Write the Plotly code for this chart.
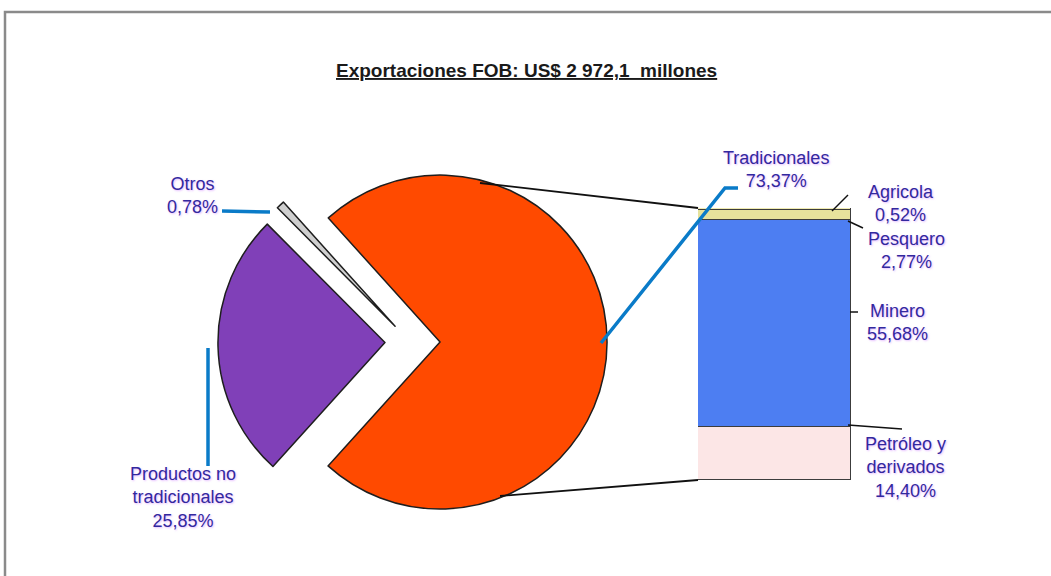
import plotly.graph_objects as go

W, H = 1051, 576

# ---------------- data ----------------
pie_labels = ["Tradicionales", "Otros", "Productos no tradicionales"]
pie_values = [73.37, 0.78, 25.85]
pie_colors = ["#FF4A00", "#CFCFCF", "#8040B8"]
pie_pull = [0.18, 0.13, 0.15]

bar_labels = ["Petróleo y derivados", "Minero", "Pesquero", "Agricola"]
bar_values = [14.40, 55.68, 2.77, 0.52]
bar_colors = ["#FCE6E6", "#4D7EF2", "#E6E29C", "#EFEAB0"]

title_text = "Exportaciones FOB: US$ 2 972,1  millones"


def px(x):
    return x / W


def py(y):
    return 1 - y / H


fig = go.Figure()

# ---------------- pie ----------------
cx, cy, r = 410, 342, 167
half = r * (1 + max(pie_pull))
fig.add_trace(go.Pie(
    labels=pie_labels, values=pie_values, sort=False,
    direction="counterclockwise", rotation=-42,
    pull=pie_pull, textinfo="none", hoverinfo="label+percent",
    marker=dict(colors=pie_colors, line=dict(color="#1e1e1e", width=1.5)),
    domain=dict(x=[px(cx - half), px(cx + half)], y=[py(cy + half), py(cy - half)]),
    showlegend=False,
))

# ---------------- stacked bar ----------------
for lab, val, col in zip(bar_labels, bar_values, bar_colors):
    fig.add_trace(go.Bar(
        x=[0], y=[val], name=lab, width=1,
        marker=dict(color=col, line=dict(color="#3c3c3c", width=1.5)),
        xaxis="x", yaxis="y", showlegend=False, hoverinfo="name+y",
    ))

total = sum(bar_values)
fig.update_layout(
    width=W, height=H, autosize=False,
    margin=dict(l=0, r=0, t=0, b=0),
    paper_bgcolor="white", plot_bgcolor="rgba(0,0,0,0)",
    barmode="stack", bargap=0,
    xaxis=dict(domain=[px(698), px(851)], range=[-0.5, 0.5], visible=False, fixedrange=True),
    yaxis=dict(domain=[py(480), py(208)], range=[0, total], visible=False, fixedrange=True),
)

shapes = []
# outer frame
shapes.append(dict(type="rect", xref="paper", yref="paper",
                   x0=px(5), y0=-0.1, x1=1.1, y1=py(12),
                   line=dict(color="#8a8a8a", width=2.5), fillcolor="rgba(0,0,0,0)", layer="below"))

# connector lines pie -> bar
shapes.append(dict(type="line", xref="paper", yref="paper", x0=px(480), y0=py(183),
                   x1=px(698), y1=py(208), line=dict(color="#111", width=1.8)))
shapes.append(dict(type="line", xref="paper", yref="paper", x0=px(500), y0=py(496),
                   x1=px(698), y1=py(480), line=dict(color="#111", width=1.8)))

blue = "#0A7BC8"


def path(points, color, width):
    d = "M " + " L ".join(f"{px(a):.5f},{py(b):.5f}" for a, b in points)
    return dict(type="path", xref="paper", yref="paper", path=d,
                line=dict(color=color, width=width))


# leader lines for pie labels
shapes.append(path([(601, 343), (725, 188), (738, 188)], blue, 3.5))
shapes.append(path([(222, 211), (270, 212)], blue, 3.5))
shapes.append(path([(208, 348), (208, 466)], blue, 3.5))

# leader lines for bar labels
shapes.append(path([(832, 211), (848, 195)], "#111", 1.5))
shapes.append(path([(848, 221), (863, 228)], "#111", 1.5))
shapes.append(path([(850, 312), (858, 312)], "#111", 1.5))
shapes.append(path([(848, 425), (902, 429)], "#111", 1.5))

fig.update_layout(shapes=shapes)

lab_font = dict(family="Liberation Sans, Arial, sans-serif", size=18, color="#33289E",
                shadow="1px 1px 2px rgba(210,140,255,0.6)")


def pct(v):
    return f"{v:.2f}%".replace(".", ",")


def note(text, x, y):
    fig.add_annotation(text=text, x=px(x), y=py(y), xref="paper", yref="paper",
                       showarrow=False, font=lab_font, align="center",
                       xanchor="center", yanchor="middle")


note(f"{pie_labels[1]}<br>{pct(pie_values[1])}", 192, 195)
note("Productos no<br>tradicionales<br>" + pct(pie_values[2]), 183, 497)
note(f"{pie_labels[0]}<br>{pct(pie_values[0])}", 776, 170)
note(f"{bar_labels[3]}<br>{pct(bar_values[3])}", 901, 203)
note(f"{bar_labels[2]}<br>{pct(bar_values[2])}", 906, 250)
note(f"{bar_labels[1]}<br>{pct(bar_values[1])}", 897, 322)
note("Petróleo y<br>derivados<br>" + pct(bar_values[0]), 905, 467)

# title
fig.add_annotation(text="<b>" + title_text + "</b>", x=px(526), y=py(70),
                   xref="paper", yref="paper", showarrow=False,
                   font=dict(family="Liberation Sans, Arial, sans-serif", size=19,
                             color="#1a1a1a", lineposition="under"),
                   xanchor="center", yanchor="middle")

fig.write_html("out.html", config={"displayModeBar": False},
               post_script="document.body.style.margin='0';document.body.style.overflow='hidden';")
